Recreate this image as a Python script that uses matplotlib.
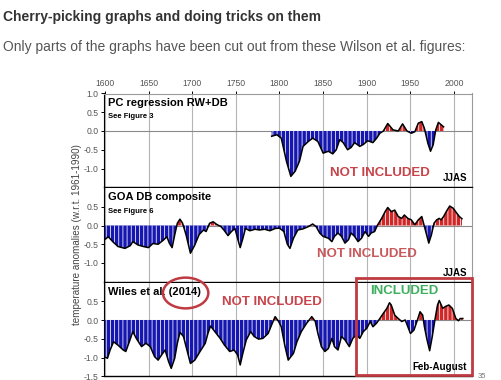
import numpy as np
import matplotlib.pyplot as plt
from matplotlib.patches import Rectangle, Ellipse

plt.rcParams['font.family'] = ['Liberation Sans', 'DejaVu Sans']
plt.rcParams['hatch.linewidth'] = 0.55

# -------------------------------
# DATA (read off the Wilson et al. panels)
# -------------------------------

pc_years = [1791, 1797, 1802, 1808, 1813, 1818, 1823, 1827, 1833, 1838, 1844, 1850,
            1856, 1861, 1865, 1869, 1873, 1878, 1882, 1886, 1892, 1896, 1901, 1907,
            1911, 1915, 1919, 1924, 1930, 1936, 1941, 1946, 1951, 1955, 1959, 1963,
            1966, 1970, 1973, 1976, 1979, 1982, 1985, 1988]
pc_vals = [-0.14, -0.10, -0.19, -0.81, -1.21, -1.07, -0.80, -0.41, -0.28, -0.19, -0.28, -0.59,
           -0.54, -0.61, -0.50, -0.23, -0.31, -0.50, -0.44, -0.31, -0.41, -0.36, -0.26, -0.31,
           -0.20, -0.06, 0.00, 0.20, 0.03, 0.00, 0.19, 0.00, -0.06, -0.02, 0.21, 0.25,
           0.07, -0.33, -0.54, -0.37, 0.03, 0.23, 0.17, 0.11]

goa_years = [1599, 1604, 1609, 1615, 1623, 1629, 1632, 1638, 1644, 1650, 1655, 1661,
             1667, 1671, 1674, 1677, 1680, 1683, 1686, 1689, 1693, 1698, 1703, 1708,
             1713, 1716, 1720, 1724, 1728, 1733, 1737, 1741, 1745, 1749, 1753, 1755,
             1758, 1761, 1766, 1772, 1777, 1783, 1789, 1795, 1800, 1805, 1809, 1812,
             1816, 1821, 1827, 1833, 1838, 1842, 1846, 1850, 1856, 1860, 1863, 1867,
             1871, 1875, 1879, 1882, 1886, 1890, 1894, 1898, 1902, 1905, 1909, 1912,
             1917, 1921, 1924, 1928, 1932, 1936, 1940, 1943, 1947, 1951, 1955, 1959,
             1963, 1966, 1969, 1971, 1974, 1977, 1980, 1983, 1985, 1988, 1991, 1995,
             1999, 2003, 2006, 2009]
goa_vals = [-0.39, -0.30, -0.43, -0.56, -0.61, -0.54, -0.43, -0.52, -0.56, -0.59, -0.48, -0.50,
            -0.39, -0.30, -0.48, -0.59, -0.25, 0.06, 0.17, 0.06, -0.25, -0.74, -0.52, -0.24,
            -0.12, -0.16, 0.06, 0.10, 0.03, -0.03, -0.14, -0.27, -0.16, -0.08, -0.43, -0.59,
            -0.35, -0.08, -0.14, -0.10, -0.12, -0.10, -0.14, -0.08, -0.07, -0.16, -0.50, -0.61,
            -0.34, -0.12, -0.09, -0.03, 0.04, -0.03, -0.20, -0.29, -0.34, -0.43, -0.29, -0.20,
            -0.29, -0.47, -0.38, -0.20, -0.29, -0.43, -0.34, -0.16, -0.29, -0.20, -0.16, 0.00,
            0.19, 0.37, 0.48, 0.37, 0.41, 0.24, 0.19, 0.28, 0.19, 0.15, 0.02, 0.15,
            0.24, -0.03, -0.29, -0.47, -0.25, 0.06, 0.15, 0.19, 0.15, 0.24, 0.37, 0.52,
            0.46, 0.33, 0.24, 0.18]

wiles_years = [1599, 1603, 1606, 1610, 1615, 1621, 1624, 1628, 1632, 1636, 1642, 1647,
               1652, 1657, 1661, 1665, 1669, 1673, 1676, 1680, 1683, 1686, 1690, 1694,
               1698, 1703, 1709, 1715, 1718, 1721, 1726, 1732, 1737, 1743, 1748, 1752,
               1755, 1758, 1762, 1767, 1771, 1776, 1781, 1787, 1791, 1795, 1799, 1802,
               1806, 1810, 1816, 1820, 1825, 1831, 1837, 1841, 1844, 1848, 1852, 1856,
               1860, 1863, 1867, 1871, 1875, 1880, 1884, 1888, 1892, 1896, 1900, 1904,
               1907, 1911, 1915, 1919, 1923, 1926, 1928, 1932, 1936, 1940, 1944, 1947,
               1950, 1954, 1958, 1961, 1964, 1966, 1969, 1972, 1975, 1978, 1981, 1983,
               1987, 1990, 1994, 1998, 2002, 2005, 2007, 2010]
wiles_vals = [-0.98, -1.02, -0.80, -0.58, -0.67, -0.80, -0.84, -0.58, -0.31, -0.49, -0.71, -0.62,
              -0.71, -0.98, -1.07, -0.93, -0.80, -1.11, -1.29, -1.02, -0.62, -0.33, -0.44, -0.80,
              -1.16, -1.07, -0.84, -0.62, -0.36, -0.16, -0.31, -0.49, -0.67, -0.84, -0.80, -0.93,
              -1.20, -0.89, -0.53, -0.31, -0.44, -0.51, -0.49, -0.36, -0.13, 0.09, -0.04, -0.18,
              -0.67, -1.07, -0.89, -0.58, -0.31, -0.09, 0.09, -0.04, -0.36, -0.71, -0.84, -0.76,
              -0.49, -0.71, -0.80, -0.44, -0.53, -0.71, -0.49, -0.40, -0.49, -0.31, -0.22, -0.04,
              -0.18, -0.09, 0.04, 0.18, 0.31, 0.46, 0.40, 0.13, 0.04, -0.04, 0.00, -0.18,
              -0.36, -0.27, 0.00, 0.22, 0.13, -0.18, -0.53, -0.82, -0.44, 0.00, 0.40, 0.52,
              0.31, 0.36, 0.40, 0.31, 0.04, -0.02, 0.04, 0.04]

panel_titles = ["PC regression RW+DB", "GOA DB composite", "Wiles et al. (2014)"]
panel_subtitles = ["See Figure 3", "See Figure 6", ""]
season_labels = ["JJAS", "JJAS", "Feb-August"]
year_ticks = [1600, 1650, 1700, 1750, 1800, 1850, 1900, 1950, 2000]
ytick_sets = [[-1.0, -0.5, 0.0, 0.5, 1.0],
              [-1.0, -0.5, 0.0, 0.5],
              [-1.5, -1.0, -0.5, 0.0, 0.5]]

BLUE = '#1616b0'
RED = '#d02828'
BOX_RED = '#c03a42'

# -------------------------------
# FIGURE
# -------------------------------

fig = plt.figure(figsize=(5.01, 3.80), dpi=100)

fig.text(3 / 501, 1 - 16.5 / 380, "Cherry-picking graphs and doing tricks on them",
         fontsize=10, fontweight='bold', color='#333333', va='center', ha='left')
fig.text(3 / 501, 1 - 47 / 380,
         "Only parts of the graphs have been cut out from these Wilson et al. figures:",
         fontsize=10, color='#555555', va='center', ha='left')

left = 104 / 501
width = (472 - 104) / 501
height = 93.75 / 380
tops = [93.5, 188, 282.5]

series = [(pc_years, pc_vals), (goa_years, goa_vals), (wiles_years, wiles_vals)]
axes = []

for i, (yrs, vals) in enumerate(series):
    ax = fig.add_axes([left, 1 - (tops[i] + 93.75) / 380, width, height])
    axes.append(ax)
    x = np.array(yrs, dtype=float)
    y = np.array(vals)

    for yr in year_ticks:
        ax.axvline(yr, color='#b5b5b5', lw=0.8, zorder=0)
    ax.axhline(0, color='#8a8a8a', lw=0.8, zorder=1)

    ax.fill_between(x, y, 0, where=y <= 0, interpolate=True, facecolor=BLUE,
                    edgecolor='white', hatch='||||', linewidth=0, zorder=2)
    ax.fill_between(x, y, 0, where=y >= 0, interpolate=True, facecolor=RED,
                    edgecolor='white', hatch='||||', linewidth=0, zorder=2)
    ax.plot(x, y, color='black', lw=1.1, zorder=3)

    ax.set_xlim(1599, 2020.5)
    ax.set_ylim(-1.5, 1.0)
    ax.set_yticks(ytick_sets[i])
    ax.set_yticklabels([f"{t:.1f}" for t in ytick_sets[i]])
    ax.tick_params(axis='y', direction='out', length=2.5, width=0.7,
                   labelsize=6.2, labelcolor='#555555', pad=1.5)

    if i == 0:
        ax.xaxis.tick_top()
        ax.set_xticks(year_ticks)
        ax.tick_params(axis='x', direction='out', length=2.5, width=0.7,
                       labelsize=6.2, labelcolor='#555555', pad=1.5)
    else:
        ax.set_xticks([])

    ax.spines['left'].set_color('black')
    ax.spines['bottom'].set_color('black')
    ax.spines['bottom'].set_linewidth(1.0)
    ax.spines['right'].set_color('#9a9a9a')
    ax.spines['right'].set_linewidth(0.8)
    if i == 0:
        ax.spines['top'].set_color('#9a9a9a')
        ax.spines['top'].set_linewidth(0.8)
    else:
        ax.spines['top'].set_visible(False)

    ax.text(0.01, 0.90, panel_titles[i], transform=ax.transAxes, fontsize=8,
            fontweight='bold', color='black', va='center', ha='left', zorder=5)
    if panel_subtitles[i]:
        ax.text(0.01, 0.752, panel_subtitles[i], transform=ax.transAxes, fontsize=5.5,
                fontweight='bold', color='black', va='center', ha='left')
    ax.text(0.986, 0.097, season_labels[i], transform=ax.transAxes, fontsize=7,
            fontweight='bold', color='black', va='center', ha='right')

# "NOT INCLUDED" / "INCLUDED" overlays
axes[0].text(0.75, 0.155, "NOT INCLUDED", transform=axes[0].transAxes, fontsize=9.5,
             fontweight='bold', color='#c8444a', va='center', ha='center')
axes[1].text(0.714, 0.293, "NOT INCLUDED", transform=axes[1].transAxes, fontsize=9.5,
             fontweight='bold', color='#c8585c', va='center', ha='center')
axes[2].text(0.4565, 0.792, "NOT INCLUDED", transform=axes[2].transAxes, fontsize=9.5,
             fontweight='bold', color='#c8444a', va='center', ha='center', zorder=5)
axes[2].text(0.8166, 0.909, "INCLUDED", transform=axes[2].transAxes, fontsize=9.5,
             fontweight='bold', color='#3fae5e', va='center', ha='center', zorder=5)

# box around the included part and circle round the year
axes[2].add_patch(Rectangle((1888, -1.47), 2020.5 - 1888, 1.47 + 1.12, fill=False,
                            edgecolor=BOX_RED, lw=2.0, clip_on=False, zorder=6))
axes[2].add_patch(Ellipse((1692.5, 0.72), 52, 0.82, fill=False, edgecolor=BOX_RED,
                          lw=1.8, clip_on=False, zorder=6))

fig.text(77 / 501, 1 - 235 / 380, "temperature anomalies (w.r.t. 1961-1990)",
         rotation=90, fontsize=7.1, color='#444444', va='center', ha='center')

fig.text(478 / 501, 1 - 377 / 380, "35", fontsize=5.5, color='#777777',
         va='center', ha='left')

fig.savefig("out.png", dpi=100)
